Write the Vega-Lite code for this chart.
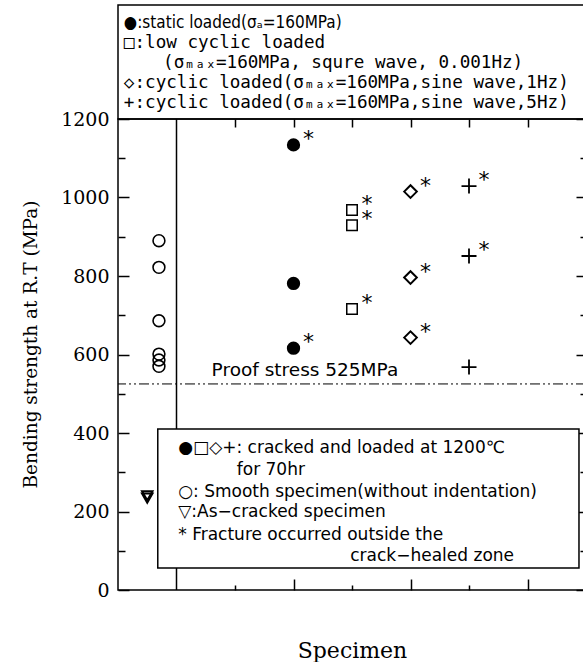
{
  "$schema": "https://vega.github.io/schema/vega-lite/v6.json",
  "padding": {"left": 20, "top": 4, "right": 0, "bottom": 5},
  "background": "white",
  "bounds": "flush",
  "config": {
    "view": {"stroke": "black", "strokeWidth": 1.5},
    "concat": {"spacing": 0},
    "axis": {"grid": false, "domain": false, "tickColor": "black", "tickWidth": 1.5, "labelColor": "black", "titleColor": "black"}
  },
  "datasets": {
    "topLegend": [
      {"line": 1, "col": 0.1, "text": "●:static loaded(σₐ=160MPa)"},
      {"line": 2, "col": 0.1, "text": "□:low cyclic loaded"},
      {"line": 3, "col": 0.77, "text": "(σₘₐₓ=160MPa, squre wave, 0.001Hz)"},
      {"line": 4, "col": 0.1, "text": "◇:cyclic loaded(σₘₐₓ=160MPa,sine wave,1Hz)"},
      {"line": 5, "col": 0.1, "text": "+:cyclic loaded(σₘₐₓ=160MPa,sine wave,5Hz)"}
    ],
    "dividers": [{"x": 1}],
    "proof": [{"y": 525}],
    "proofLabel": [{"x": 1.6, "y": 525, "text": "Proof stress 525MPa"}],
    "box": [{"x": 0.68, "x2": 7.88, "y": 410, "y2": 56}],
    "notes": [
      {"x": 1.03, "y": 362, "text": "●□◇+: cracked and loaded at 1200℃"},
      {"x": 2.03, "y": 306, "text": "for 70hr"},
      {"x": 1.03, "y": 250, "text": "○: Smooth specimen(without indentation)"},
      {"x": 1.03, "y": 199, "text": "▽:As−cracked specimen"},
      {"x": 1.03, "y": 140, "text": "* Fracture occurred outside the"},
      {"x": 3.97, "y": 87, "text": "crack−healed zone"}
    ],
    "points": [
      {"type": "static", "x": 3, "y": 1134, "star": 1},
      {"type": "static", "x": 3, "y": 781, "star": 0},
      {"type": "static", "x": 3, "y": 616, "star": 1},
      {"type": "lowcyclic", "x": 4, "y": 968, "star": 1},
      {"type": "lowcyclic", "x": 4, "y": 929, "star": 1},
      {"type": "lowcyclic", "x": 4, "y": 716, "star": 1},
      {"type": "sine1Hz", "x": 5, "y": 1015, "star": 1},
      {"type": "sine1Hz", "x": 5, "y": 796, "star": 1},
      {"type": "sine1Hz", "x": 5, "y": 643, "star": 1},
      {"type": "sine5Hz", "x": 6, "y": 1029, "star": 1},
      {"type": "sine5Hz", "x": 6, "y": 851, "star": 1},
      {"type": "sine5Hz", "x": 6, "y": 568, "star": 0},
      {"type": "smooth", "x": 0.7, "y": 890, "star": 0},
      {"type": "smooth", "x": 0.7, "y": 822, "star": 0},
      {"type": "smooth", "x": 0.7, "y": 686, "star": 0},
      {"type": "smooth", "x": 0.7, "y": 601, "star": 0},
      {"type": "smooth", "x": 0.7, "y": 586, "star": 0},
      {"type": "smooth", "x": 0.7, "y": 570, "star": 0},
      {"type": "ascracked", "x": 0.5, "y": 240, "star": 0},
      {"type": "ascracked", "x": 0.5, "y": 234, "star": 0}
    ]
  },
  "vconcat": [
    {
      "width": 468,
      "height": 114,
      "data": {"name": "topLegend"},
      "encoding": {
        "x": {"field": "col", "type": "quantitative", "scale": {"domain": [0, 8], "nice": false, "zero": false}, "axis": null},
        "y": {"field": "line", "type": "quantitative", "scale": {"domain": [0.1, 5.8], "reverse": true, "nice": false, "zero": false}, "axis": null},
        "text": {"field": "text"}
      },
      "layer": [
        {
          "transform": [{"filter": "datum.line === 1"}],
          "mark": {"type": "text", "align": "left", "baseline": "middle", "font": "DejaVu Sans Condensed, DejaVu Sans", "fontSize": 17, "color": "black"}
        },
        {
          "transform": [{"filter": "datum.line > 1"}],
          "mark": {"type": "text", "align": "left", "baseline": "middle", "font": "DejaVu Sans Mono", "fontSize": 17.6, "color": "black"}
        }
      ]
    },
    {
      "width": 468,
      "height": 471,
      "resolve": {"axis": {"x": "independent", "y": "independent"}},
      "layer": [
        {
          "data": {"name": "dividers"},
          "mark": {"type": "rule", "color": "black", "strokeWidth": 1.5},
          "encoding": {
            "x": {"field": "x", "type": "quantitative", "scale": {"domain": [0, 8], "nice": false, "zero": false},
                  "axis": {"orient": "bottom", "values": [2, 4, 6], "tickSize": -5, "labels": false, "title": null}}
          }
        },
        {
          "data": {"name": "proof"},
          "mark": {"type": "rule", "color": "black", "strokeWidth": 1, "strokeDash": [10, 3, 2, 3, 2, 3]},
          "encoding": {
            "y": {"field": "y", "type": "quantitative", "scale": {"domain": [0, 1200], "nice": false, "zero": false},
                  "axis": {"orient": "right", "values": [100, 300, 500, 700, 900, 1100], "tickSize": -6, "labels": false, "title": null}}
          }
        },
        {
          "data": {"name": "box"},
          "mark": {"type": "rect", "fill": "white", "stroke": "black", "strokeWidth": 1.5},
          "encoding": {
            "x": {"field": "x", "type": "quantitative", "scale": {"domain": [0, 8], "nice": false, "zero": false},
                  "axis": {"orient": "top", "values": [2, 3, 4, 5, 6, 7], "tickSize": -8, "labels": false, "title": null}},
            "x2": {"field": "x2"},
            "y": {"field": "y", "type": "quantitative", "scale": {"domain": [0, 1200], "nice": false, "zero": false},
                  "axis": {"orient": "right", "values": [0, 200, 400, 600, 800, 1000, 1200], "tickSize": -10, "labels": false, "title": null}},
            "y2": {"field": "y2"}
          }
        },
        {
          "data": {"name": "notes"},
          "mark": {"type": "text", "align": "left", "baseline": "middle", "font": "DejaVu Sans", "fontSize": 17, "color": "black"},
          "encoding": {
            "x": {"field": "x", "type": "quantitative", "scale": {"domain": [0, 8], "nice": false, "zero": false}, "axis": null},
            "y": {"field": "y", "type": "quantitative", "scale": {"domain": [0, 1200], "nice": false, "zero": false}, "axis": null},
            "text": {"field": "text"}
          }
        },
        {
          "data": {"name": "proofLabel"},
          "mark": {"type": "text", "align": "left", "baseline": "bottom", "dy": -4, "font": "DejaVu Sans", "fontSize": 18.5, "color": "black"},
          "encoding": {
            "x": {"field": "x", "type": "quantitative", "scale": {"domain": [0, 8], "nice": false, "zero": false}, "axis": null},
            "y": {"field": "y", "type": "quantitative", "scale": {"domain": [0, 1200], "nice": false, "zero": false}, "axis": null},
            "text": {"field": "text"}
          }
        },
        {
          "data": {"name": "points"},
          "transform": [{"filter": "datum.type === 'static'"}],
          "mark": {"type": "point", "shape": "circle", "filled": true, "color": "black", "size": 177, "opacity": 1},
          "encoding": {
            "x": {"field": "x", "type": "quantitative", "scale": {"domain": [0, 8], "nice": false, "zero": false},
                  "axis": {"orient": "bottom", "values": [3, 5, 7], "tickSize": -11, "labels": false, "title": "Specimen",
                           "titleFont": "DejaVu Serif", "titleFontSize": 22, "titleFontWeight": "normal", "titlePadding": 50}},
            "y": {"field": "y", "type": "quantitative", "scale": {"domain": [0, 1200], "nice": false, "zero": false},
                  "axis": {"orient": "left", "values": [0, 200, 400, 600, 800, 1000, 1200], "format": "d", "tickSize": -11, "labelPadding": 20,
                           "labelFont": "DejaVu Serif", "labelFontSize": 19, "title": "Bending strength at R.T (MPa)",
                           "titleFont": "DejaVu Serif", "titleFontSize": 18.5, "titleFontWeight": "normal", "titlePadding": 20, "titleY": 225}}
          }
        },
        {
          "data": {"name": "points"},
          "transform": [{"filter": "datum.type === 'lowcyclic'"}],
          "mark": {"type": "point", "shape": "square", "filled": false, "color": "black", "strokeWidth": 1.5, "size": 110, "opacity": 1},
          "encoding": {
            "x": {"field": "x", "type": "quantitative", "scale": {"domain": [0, 8], "nice": false, "zero": false}, "axis": null},
            "y": {"field": "y", "type": "quantitative", "scale": {"domain": [0, 1200], "nice": false, "zero": false},
                  "axis": {"orient": "left", "values": [100, 300, 500, 700, 900, 1100], "tickSize": -7, "labels": false, "title": null}}
          }
        },
        {
          "data": {"name": "points"},
          "transform": [{"filter": "datum.type === 'sine1Hz'"}],
          "mark": {"type": "point", "shape": "diamond", "filled": false, "color": "black", "strokeWidth": 2, "size": 160, "opacity": 1},
          "encoding": {
            "x": {"field": "x", "type": "quantitative", "scale": {"domain": [0, 8], "nice": false, "zero": false}, "axis": null},
            "y": {"field": "y", "type": "quantitative", "scale": {"domain": [0, 1200], "nice": false, "zero": false}, "axis": null}
          }
        },
        {
          "data": {"name": "points"},
          "transform": [{"filter": "datum.type === 'sine5Hz'"}],
          "mark": {"type": "point", "shape": "M-1,0H1M0,-1V1", "filled": false, "color": "black", "strokeWidth": 1.8, "size": 225, "opacity": 1},
          "encoding": {
            "x": {"field": "x", "type": "quantitative", "scale": {"domain": [0, 8], "nice": false, "zero": false}, "axis": null},
            "y": {"field": "y", "type": "quantitative", "scale": {"domain": [0, 1200], "nice": false, "zero": false}, "axis": null}
          }
        },
        {
          "data": {"name": "points"},
          "transform": [{"filter": "datum.type === 'smooth'"}],
          "mark": {"type": "point", "shape": "circle", "filled": false, "color": "black", "strokeWidth": 1.6, "size": 140, "opacity": 1},
          "encoding": {
            "x": {"field": "x", "type": "quantitative", "scale": {"domain": [0, 8], "nice": false, "zero": false}, "axis": null},
            "y": {"field": "y", "type": "quantitative", "scale": {"domain": [0, 1200], "nice": false, "zero": false}, "axis": null}
          }
        },
        {
          "data": {"name": "points"},
          "transform": [{"filter": "datum.type === 'ascracked'"}],
          "mark": {"type": "point", "shape": "triangle-down", "filled": false, "color": "black", "strokeWidth": 2, "size": 110, "opacity": 1},
          "encoding": {
            "x": {"field": "x", "type": "quantitative", "scale": {"domain": [0, 8], "nice": false, "zero": false}, "axis": null},
            "y": {"field": "y", "type": "quantitative", "scale": {"domain": [0, 1200], "nice": false, "zero": false}, "axis": null}
          }
        },
        {
          "data": {"name": "points"},
          "transform": [{"filter": "datum.star === 1"}],
          "mark": {"type": "text", "text": "*", "align": "center", "baseline": "alphabetic", "dx": 15, "dy": 1, "font": "DejaVu Sans", "fontSize": 22, "color": "black"},
          "encoding": {
            "x": {"field": "x", "type": "quantitative", "scale": {"domain": [0, 8], "nice": false, "zero": false}, "axis": null},
            "y": {"field": "y", "type": "quantitative", "scale": {"domain": [0, 1200], "nice": false, "zero": false}, "axis": null}
          }
        }
      ]
    }
  ]
}
